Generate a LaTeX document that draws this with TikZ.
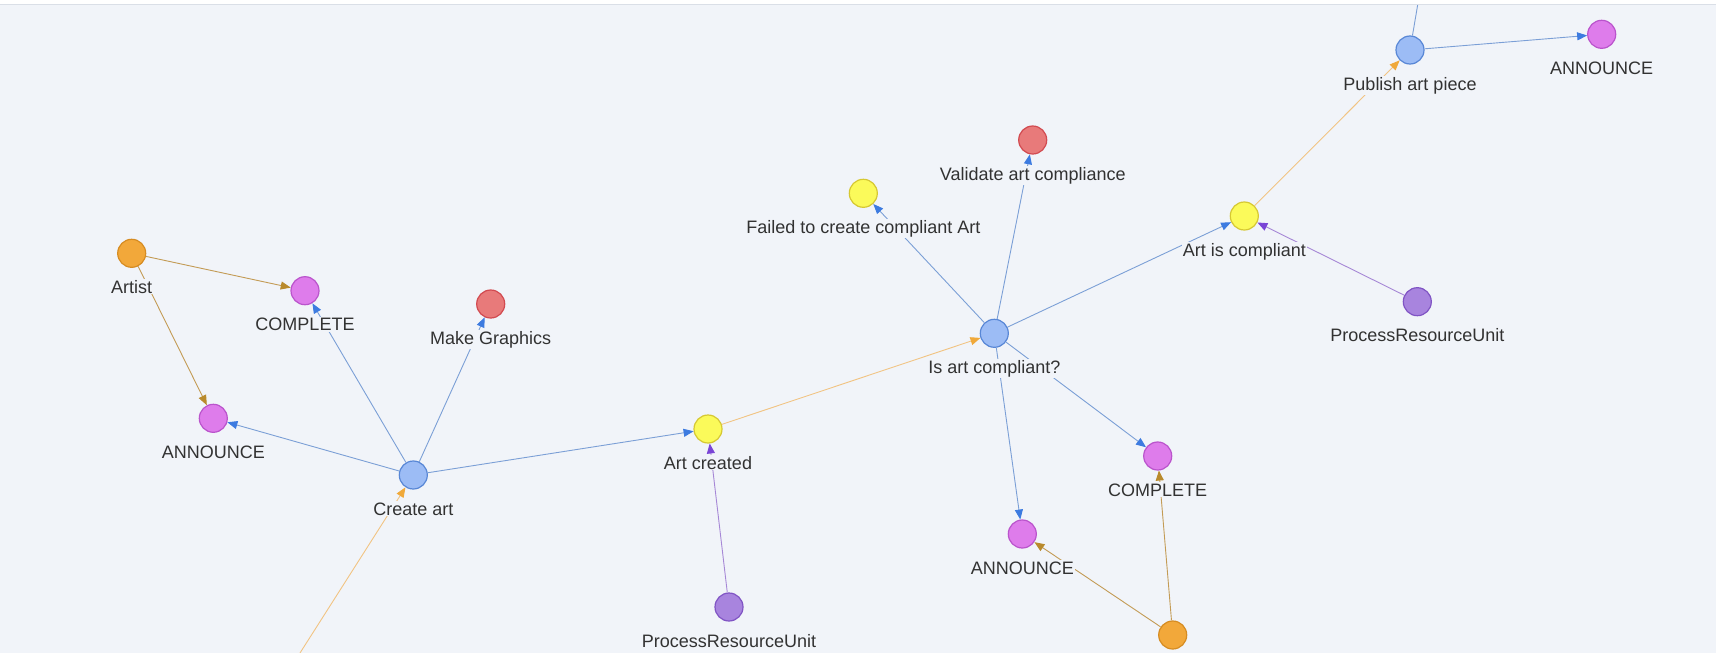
\documentclass[tikz,border=0pt]{standalone}
\usepackage{fontspec}
\setmainfont{Liberation Sans}
\usetikzlibrary{arrows.meta}

\definecolor{bgcol}{RGB}{241,244,249}
\definecolor{txtcol}{RGB}{50,50,50}
\definecolor{bluefill}{RGB}{156,188,245}
\definecolor{blueline}{RGB}{88,135,214}
\definecolor{yellowfill}{RGB}{251,250,90}
\definecolor{yellowline}{RGB}{214,200,50}
\definecolor{pinkfill}{RGB}{222,124,235}
\definecolor{pinkline}{RGB}{186,84,204}
\definecolor{redfill}{RGB}{232,122,122}
\definecolor{redline}{RGB}{210,74,80}
\definecolor{orangefill}{RGB}{242,168,58}
\definecolor{orangeline}{RGB}{214,140,34}
\definecolor{purplefill}{RGB}{168,132,222}
\definecolor{purpleline}{RGB}{128,84,196}
\definecolor{edgeblue}{RGB}{123,159,214}
\definecolor{tipblue}{RGB}{61,123,224}
\definecolor{edgeorange}{RGB}{241,196,131}
\definecolor{tiporange}{RGB}{240,169,58}
\definecolor{edgebrown}{RGB}{195,155,85}
\definecolor{tipbrown}{RGB}{185,138,44}
\definecolor{edgepurple}{RGB}{166,135,214}
\definecolor{tippurple}{RGB}{122,69,214}

\begin{document}
\begin{tikzpicture}[x=1pt,y=-1pt,
  dot/.style={circle,line width=1.2pt,minimum size=28pt,inner sep=0pt},
  tasknode/.style={dot,draw=blueline,fill=bluefill},
  eventnode/.style={dot,draw=yellowline,fill=yellowfill},
  signalnode/.style={dot,draw=pinkline,fill=pinkfill},
  actionnode/.style={dot,draw=redline,fill=redfill},
  actornode/.style={dot,draw=orangeline,fill=orangefill},
  unitnode/.style={dot,draw=purpleline,fill=purplefill},
  lbl/.style={anchor=base,fill=bgcol,inner sep=1pt,text=txtcol,
    font=\fontsize{18}{21}\selectfont},
  blueedge/.style={draw=edgeblue,line width=0.9pt,-{Triangle[length=10pt,width=8pt,color=tipblue]}},
  orangeedge/.style={draw=edgeorange,line width=0.9pt,-{Triangle[length=10pt,width=8pt,color=tiporange]}},
  brownedge/.style={draw=edgebrown,line width=0.9pt,-{Triangle[length=10pt,width=8pt,color=tipbrown]}},
  purpleedge/.style={draw=edgepurple,line width=0.9pt,-{Triangle[length=10pt,width=8pt,color=tippurple]}}]
  % Hintergrund
  \fill[bgcol] (0,0) rectangle (1716,653);
  \useasboundingbox (0,0) rectangle (1716,653);
  % Punkte
  \node[actornode]  (artist)     at (131.7,253.3) {};
  \node[signalnode] (completeA)  at (305,290.7)   {};
  \node[actionnode] (graphics)   at (490.7,304)   {};
  \node[signalnode] (announceA)  at (213.3,418.3) {};
  \node[tasknode]   (createart)  at (413.3,475)   {};
  \node[eventnode]  (artcreated) at (708,429)     {};
  \node[unitnode]   (unitA)      at (729,607)     {};
  \node[tasknode]   (compliantq) at (994.3,333.3) {};
  \node[eventnode]  (failed)     at (863.3,193.3) {};
  \node[actionnode] (validate)   at (1032.7,140)  {};
  \node[eventnode]  (artok)      at (1244.3,216)  {};
  \node[unitnode]   (unitB)      at (1417.3,301.7) {};
  \node[tasknode]   (publish)    at (1410,50)     {};
  \node[signalnode] (announceC)  at (1601.7,34.3) {};
  \node[signalnode] (completeB)  at (1157.7,456)  {};
  \node[signalnode] (announceB)  at (1022.3,534)  {};
  \node[actornode]  (actorB)     at (1172.7,635)  {};
  \coordinate (offA) at (300,653);
  \coordinate (offB) at (1418.5,0);
  % Kanten
  \draw[brownedge]  (artist) -- (completeA);
  \draw[brownedge]  (artist) -- (announceA);
  \draw[blueedge]   (createart) -- (announceA);
  \draw[blueedge]   (createart) -- (completeA);
  \draw[blueedge]   (createart) -- (graphics);
  \draw[blueedge]   (createart) -- (artcreated);
  \draw[orangeedge] (offA) -- (createart);
  \draw[purpleedge] (unitA) -- (artcreated);
  \draw[orangeedge] (artcreated) -- (compliantq);
  \draw[blueedge]   (compliantq) -- (failed);
  \draw[blueedge]   (compliantq) -- (validate);
  \draw[blueedge]   (compliantq) -- (artok);
  \draw[blueedge]   (compliantq) -- (announceB);
  \draw[blueedge]   (compliantq) -- (completeB);
  \draw[brownedge]  (actorB) -- (announceB);
  \draw[brownedge]  (actorB) -- (completeB);
  \draw[purpleedge] (unitB) -- (artok);
  \draw[orangeedge] (artok) -- (publish);
  \draw[blueedge]   (publish) -- (announceC);
  \draw[draw=edgeblue,line width=0.9pt] (publish) -- (offB);
  % Beschriftungen
  \node[lbl] (artist-l)     at ([yshift=-40pt]artist.center)     {Artist};
  \node[lbl] (completeA-l)  at ([yshift=-40pt]completeA.center)  {COMPLETE};
  \node[lbl] (graphics-l)   at ([yshift=-40pt]graphics.center)   {Make Graphics};
  \node[lbl] (announceA-l)  at ([yshift=-40pt]announceA.center)  {ANNOUNCE};
  \node[lbl] (createart-l)  at ([yshift=-40pt]createart.center)  {Create art};
  \node[lbl] (artcreated-l) at ([yshift=-40pt]artcreated.center) {Art created};
  \node[lbl] (unitA-l)      at ([yshift=-40pt]unitA.center)      {ProcessResourceUnit};
  \node[lbl] (compliantq-l) at ([yshift=-40pt]compliantq.center) {Is art compliant?};
  \node[lbl] (failed-l)     at ([yshift=-40pt]failed.center)     {Failed to create compliant Art};
  \node[lbl] (validate-l)   at ([yshift=-40pt]validate.center)   {Validate art compliance};
  \node[lbl] (artok-l)      at ([yshift=-40pt]artok.center)      {Art is compliant};
  \node[lbl] (unitB-l)      at ([yshift=-40pt]unitB.center)      {ProcessResourceUnit};
  \node[lbl] (publish-l)    at ([yshift=-40pt]publish.center)    {Publish art piece};
  \node[lbl] (announceC-l)  at ([yshift=-40pt]announceC.center)  {ANNOUNCE};
  \node[lbl] (completeB-l)  at ([yshift=-40pt]completeB.center)  {COMPLETE};
  \node[lbl] (announceB-l)  at ([yshift=-40pt]announceB.center)  {ANNOUNCE};
  % Kopfleiste
  \fill[white] (0,0) rectangle (1716,4);
  \draw[draw={rgb,255:red,218;green,223;blue,231},line width=1pt] (0,4) -- (1716,4);
\end{tikzpicture}
\end{document}
